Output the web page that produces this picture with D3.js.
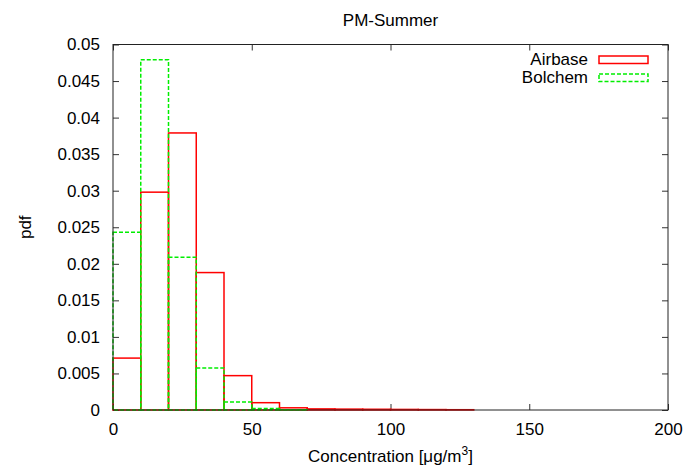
<!DOCTYPE html>
<style>
body { margin: 0; background: #fff; }
text { font-family: "Liberation Sans", Arial, sans-serif; fill: #000; }
.axis .domain { display: none; }
.axis line { stroke: #333; }
</style>
<svg width="687" height="467" class="chart"></svg>
<script src="https://cdn.jsdelivr.net/npm/d3@7"></script>
<script>

// bin edges: 0,10,20,...,200
var binStarts = d3.range(0, 200, 10);
var binWidth = 10;

var airbase = [0.0071, 0.0298, 0.0379, 0.0188, 0.0047, 0.0010, 0.0003, 0.00015, 0.00012, 0.0001,
               0.00008, 0.00006, 0.00004, 0, 0, 0, 0, 0, 0, 0];
var bolchem = [0.0243, 0.0479, 0.0209, 0.00575, 0.0011, 0.0002, 0.00005, 0, 0, 0,
               0, 0, 0, 0, 0, 0, 0, 0, 0, 0];

var seriesNames = ["Airbase", "Bolchem"];
var xTicks = [0, 50, 100, 150, 200];
var yTicks = d3.range(0, 0.0501, 0.005);

var svg = d3.select(".chart"),
    margin = {top: 44.5, right: 19, bottom: 57, left: 113},
    width = +svg.attr("width") - margin.left - margin.right,
    height = +svg.attr("height") - margin.top - margin.bottom,
    g = svg.append("g").attr("transform", "translate(" + margin.left + "," + margin.top + ")");

var x = d3.scaleLinear().domain([0, 200]).range([0, width]);
var y = d3.scaleLinear().domain([0, 0.05]).range([height, 0]);

var fmtY = function(d) { return d === 0 ? "0" : d3.format(".3~f")(d); };

// axes with inward ticks (mirrored on top/right)
g.append("g").attr("class", "axis")
    .attr("transform", "translate(0," + height + ")")
    .call(d3.axisBottom(x).tickValues(xTicks).tickSizeInner(-6).tickSizeOuter(0).tickPadding(13))
    .selectAll("text").style("font-size", "17px");
g.append("g").attr("class", "axis")
    .call(d3.axisTop(x).tickValues(xTicks).tickSizeInner(-6).tickSizeOuter(0).tickFormat(""));
g.append("g").attr("class", "axis")
    .call(d3.axisLeft(y).tickValues(yTicks).tickSizeInner(-6).tickSizeOuter(0).tickPadding(13).tickFormat(fmtY))
    .selectAll("text").style("font-size", "17px");
g.append("g").attr("class", "axis")
    .attr("transform", "translate(" + width + ",0)")
    .call(d3.axisRight(y).tickValues(yTicks).tickSizeInner(-6).tickSizeOuter(0).tickFormat(""));

var color = {Airbase: "#ff0000", Bolchem: "#00ee00"};
var dash = {Airbase: null, Bolchem: "4,2"};

function drawBoxes(name, vals) {
  g.append("g").selectAll("rect")
    .data(binStarts.map(function(s, i) { return {x0: s, v: vals[i]}; }).filter(function(d) { return d.v > 0; }))
    .enter().append("rect")
      .attr("x", function(d) { return x(d.x0); })
      .attr("y", function(d) { return y(d.v); })
      .attr("width", x(binWidth) - x(0))
      .attr("height", function(d) { return height - y(d.v); })
      .attr("fill", "none")
      .attr("stroke", color[name])
      .attr("stroke-width", 1.5)
      .attr("stroke-dasharray", dash[name]);
}
drawBoxes("Airbase", airbase);
drawBoxes("Bolchem", bolchem);

// frame
g.append("rect")
    .attr("width", width).attr("height", height)
    .attr("fill", "none").attr("stroke", "#222").attr("stroke-width", 1);

// legend
var legend = g.selectAll(".legend")
    .data(seriesNames)
    .enter().append("g")
      .attr("transform", function(d, i) { return "translate(0," + (i * 18) + ")"; });
legend.append("text")
    .attr("x", 475).attr("y", 20.5)
    .attr("text-anchor", "end")
    .style("font-size", "17px")
    .text(function(d) { return d; });
legend.append("rect")
    .attr("x", 486).attr("y", 11.5)
    .attr("width", 49).attr("height", 7.5)
    .attr("fill", "none")
    .attr("stroke", function(d) { return color[d]; })
    .attr("stroke-width", 1.5)
    .attr("stroke-dasharray", function(d) { return dash[d]; });

// titles
svg.append("text")
    .attr("x", margin.left + width / 2).attr("y", 26)
    .attr("text-anchor", "middle").style("font-size", "17px")
    .text("PM-Summer");

var xl = svg.append("text")
    .attr("x", margin.left + width / 2).attr("y", 462)
    .attr("text-anchor", "middle").style("font-size", "17px");
xl.append("tspan").text("Concentration [μg/m");
xl.append("tspan").attr("dy", -7).style("font-size", "12px").text("3");
xl.append("tspan").attr("dy", 7).text("]");

svg.append("text")
    .attr("transform", "translate(31," + (margin.top + height / 2) + ") rotate(-90)")
    .attr("text-anchor", "middle").style("font-size", "17px")
    .text("pdf");

</script>
